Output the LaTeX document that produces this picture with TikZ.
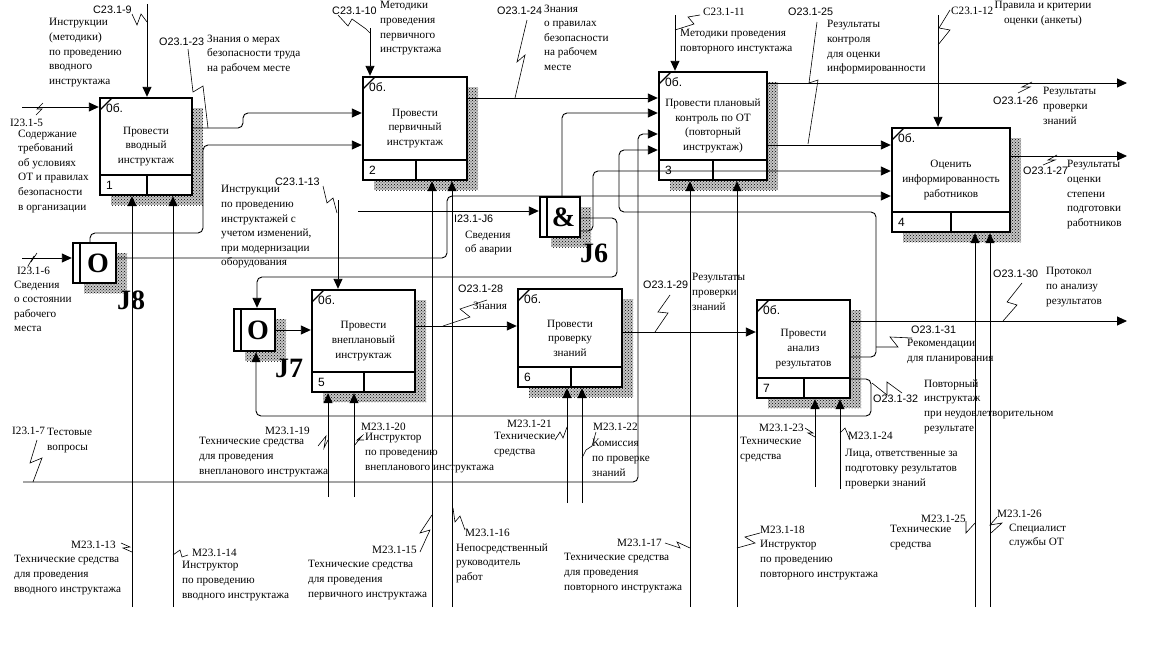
\documentclass[tikz,border=0pt]{standalone}
\usepackage{fontspec}
\setmainfont{Liberation Serif}
\setsansfont{Liberation Sans}
\usetikzlibrary{arrows.meta,patterns}
\newcommand\sfn{\sffamily\fontsize{10.8}{14.6}\selectfont}
\newcommand\rmn{\rmfamily\fontsize{11.2}{14.6}\selectfont}
\tikzset{
  con/.style={line width=0.9pt, rounded corners=5pt},
  arr/.style={con, -{Triangle[length=10pt,width=9pt]}},
  lab/.style={anchor=north west, align=left, font=\rmn, yshift=7.6pt, execute at begin node=\strut, inner sep=0pt},
  labs/.style={lab, font=\sfn},
  bolt/.style={line width=0.6pt},
  shadowbg/.style={fill=black!22},
  shadowpat/.style={pattern=crosshatch dots, pattern color=black},
  actst/.style={draw, line width=2.4pt, fill=white, rectangle, inner sep=0pt},
  jst/.style={draw, line width=2.4pt, fill=white, rectangle, inner sep=0pt},
  jsym/.style={font=\rmfamily\bfseries\fontsize{28}{28}\selectfont, inner sep=0pt},
  jlab/.style={anchor=west, font=\rmfamily\bfseries\fontsize{28}{28}\selectfont, inner sep=0pt},
}
% #1 name, #2 left, #3 top, #4 right, #5 bottom, #6 mid x, #7 number, #8 text
\newcommand\actbox[8]{%
  \fill[shadowbg] (#2+11,#3+10) rectangle (#4+11,#5+10);
  \fill[shadowpat] (#2+11,#3+10) rectangle (#4+11,#5+10);
  \node[actst, minimum width=#4-#2, minimum height=#5-#3] (#1) at ({(#2+#4)/2},{(#3+#5)/2}) {};
  \draw[line width=2.4pt] (#2,#5-20) -- (#4,#5-20) (#6,#5-20) -- (#6,#5);
  \draw[line width=1.2pt] (#2,#3+12) -- (#2+12,#3);
  \node[anchor=north west, font=\sffamily\fontsize{12}{12}\selectfont, inner sep=0pt] at (#2+6,#3+5) {0б.};
  \node[anchor=west, font=\sffamily\fontsize{12}{12}\selectfont, inner sep=0pt] at (#2+6,#5-10) {#7};
  \node[align=center, font=\rmn, inner sep=0pt] at ({(#2+#4)/2},{(#3+#5)/2}) {#8};
}
% #1 name, #2 left, #3 top, #4 right, #5 bottom, #6 symbol
\newcommand\jbox[6]{%
  \fill[shadowbg] (#2+11,#3+10) rectangle (#4+11,#5+10);
  \fill[shadowpat] (#2+11,#3+10) rectangle (#4+11,#5+10);
  \node[jst, minimum width=#4-#2, minimum height=#5-#3] (#1) at ({(#2+#4)/2},{(#3+#5)/2}) {};
  \draw[line width=2.4pt] (#2+7,#3) -- (#2+7,#5);
  \node[jsym] at ({(#2+7+#4)/2},{(#3+#5)/2}) {#6};
}
\begin{document}
\begin{tikzpicture}[x=1pt,y=-1pt]
\fill[white] (0,0) rectangle (1152,672);
\useasboundingbox (0,0) rectangle (1152,672);

% ---------- boxes ----------
\actbox{b1}{100}{98}{192}{195}{147}{1}{Провести\\вводный\\инструктаж}
\actbox{b2}{363}{77}{467}{180}{416}{2}{Провести\\первичный\\инструктаж}
\actbox{b3}{659}{72}{767}{180}{713}{3}{Провести плановый\\контроль по ОТ\\(повторный\\инструктаж)}
\actbox{b4}{892}{128}{1010}{232}{951}{4}{Оценить\\информированность\\работников}
\actbox{b5}{312}{290}{415}{392}{364}{5}{Провести\\внеплановый\\инструктаж}
\actbox{b6}{518}{289}{622}{387}{571}{6}{Провести\\проверку\\знаний}
\actbox{b7}{757}{300}{850}{398}{804}{7}{Провести\\анализ\\результатов}

\jbox{j8}{73}{243}{116}{283}{O}
\jbox{j7}{234}{309}{275}{351}{O}
\jbox{j6}{540}{197}{580}{237}{\&}
\node[jlab] (lj8) at (117,300) {J8};
\node[jlab] (lj7) at (275,368) {J7};
\node[jlab] (lj6) at (580,253) {J6};

% ---------- controls ----------
\draw[arr] (147,4) -- (b1.north -| 147,0);
\draw[arr] (370,28) -- (b2.north -| 370,0);
\draw[arr] (675,15) -- (b3.north -| 675,0);
\draw[arr] (938,15) -- (b4.north -| 938,0);
\draw[arr] (338,200) -- (b5.north -| 338,0);

% ---------- inputs ----------
\draw[arr] (22,107) -- (b1.west |- 0,107);
\draw[arr] (22,258) -- (j8.west |- 0,258);
\draw[arr] (23,482) -- (638,482) -- (638,134) -- (b3.west |- 0,134);
\draw[arr] (358,211) -- (j6.west |- 0,211);

% ---------- internal arrows ----------
\draw[arr] (b1.east |- 0,128) -- (243,128) -- (243,113) -- (b2.west |- 0,113);
\draw[arr] (j8.north -| 90,0) -- (90,233) -- (203,233) -- (203,145) -- (b2.west |- 0,145);
\draw[arr] (j8.east |- 0,258) -- (447,258) -- (447,196) -- (b4.west |- 0,196);
\draw[arr] (b2.east |- 0,98) -- (b3.west |- 0,98);
\draw[arr] (j6.north -| 562,0) -- (562,113) -- (b3.west |- 0,113);
\draw[arr] (b3.east |- 0,145) -- (b4.west |- 0,145);
\draw[arr] (j6.east |- 0,231) -- (593,231) -- (593,171) -- (b4.west |- 0,171);
\draw[arr] (b7.east |- 0,357) -- (876,357) -- (876,212) -- (619,212) -- (619,150) -- (b3.west |- 0,150);
\draw[arr] (j6.east |- 0,218) -- (617,218) -- (617,277) -- (257,277) -- (j7.north -| 257,0);
\draw[arr] (b7.east |- 0,379) -- (871,379) -- (871,416) -- (256,416) -- (j7.south -| 256,0);
\draw[arr] (j7.east |- 0,330) -- (b5.west |- 0,330);
\draw[arr] (b5.east |- 0,326) -- (b6.west |- 0,326);
\draw[arr] (b6.east |- 0,332) -- (b7.west |- 0,332);

% ---------- outputs ----------
\draw[arr] (b3.east |- 0,83) -- (1127,83);
\draw[arr] (b4.east |- 0,156) -- (1127,156);
\draw[arr] (b7.east |- 0,321) -- (1127,321);

% ---------- mechanisms ----------
\draw[arr] (132,607) -- (b1.south -| 132,0);
\draw[arr] (173,607) -- (b1.south -| 173,0);
\draw[arr] (432,607) -- (b2.south -| 432,0);
\draw[arr] (452,607) -- (b2.south -| 452,0);
\draw[arr] (690,607) -- (b3.south -| 690,0);
\draw[arr] (737,607) -- (b3.south -| 737,0);
\draw[arr] (975,607) -- (b4.south -| 975,0);
\draw[arr] (990,607) -- (b4.south -| 990,0);
\draw[arr] (328,497) -- (b5.south -| 328,0);
\draw[arr] (354,497) -- (b5.south -| 354,0);
\draw[arr] (567,503) -- (b6.south -| 567,0);
\draw[arr] (582,503) -- (b6.south -| 582,0);
\draw[arr] (815,487) -- (b7.south -| 815,0);
\draw[arr] (840,489) -- (b7.south -| 840,0);

% ---------- label leaders ----------
\draw[bolt] (132,14) -- (137,25) -- (141,14) -- (147,22);
\draw[bolt] (36,115) -- (42,109) -- (37,109) -- (43,103);
\draw[bolt] (188,49) -- (193,92) -- (203,86) -- (208,128);
\draw[bolt] (338,15) -- (348,26) -- (352,19) -- (366,29) -- (370,33);
\draw[bolt] (527,20) -- (517,62) -- (525,55) -- (515,98);
\draw[bolt] (700,15) -- (688,17) -- (694,24) -- (675,30);
\draw[bolt] (817,22) -- (809,83) -- (818,80) -- (808,144);
\draw[bolt] (950,10) -- (939,28) -- (950,30) -- (938,45);
\draw[bolt] (1018,93) -- (1030,87) -- (1022,87) -- (1032,82);
\draw[bolt] (1043,165) -- (1055,160) -- (1048,160) -- (1057,155);
\draw[bolt] (323,186) -- (327,203) -- (333,198) -- (337,213);
\draw[bolt] (28,266) -- (34,256) -- (31,262) -- (37,253);
\draw[bolt] (443,326) -- (470,317) -- (460,309) -- (487,300);
\draw[bolt] (655,332) -- (668,313) -- (658,312) -- (670,295);
\draw[bolt] (1003,321) -- (1017,305) -- (1007,302) -- (1022,283);
\draw[bolt] (876,347) -- (898,347) -- (890,337) -- (912,338);
\draw[bolt] (872,383) -- (887,395) -- (887,382) -- (902,393);
\draw[bolt] (121,543) -- (130,547) -- (123,548) -- (132,552);
\draw[bolt] (173,555) -- (180,550) -- (182,557) -- (188,555);
\draw[bolt] (432,515) -- (420,533) -- (430,530) -- (420,552);
\draw[bolt] (453,508) -- (455,522) -- (460,516) -- (465,530);
\draw[bolt] (318,446) -- (326,436) -- (324,448) -- (328,440);
\draw[bolt] (354,446) -- (362,436) -- (357,440) -- (364,440);
\draw[bolt] (555,440) -- (560,432) -- (563,438) -- (567,427);
\draw[bolt] (582,458) -- (586,450) -- (592,446) -- (596,432);
\draw[bolt] (805,428) -- (813,433) -- (808,433) -- (815,437);
\draw[bolt] (840,433) -- (845,428) -- (850,440);
\draw[bolt] (665,543) -- (680,548) -- (677,542) -- (690,548);
\draw[bolt] (760,533) -- (745,537) -- (755,543) -- (737,548);
\draw[bolt] (966,521) -- (966,533) -- (975,523);
\draw[bolt] (997,517) -- (990,525) -- (1002,523) -- (991,533);
\draw[bolt] (37,440) -- (30,463) -- (42,458) -- (33,482);

% ---------- labels ----------
\node[labs] (tc9) at (93,11) {C23.1-9};
\node[lab] (xc9) at (49,26) {Инструкции\\(методики)\\по проведению\\вводного\\инструктажа};
\node[labs] (to23) at (159,43) {O23.1-23};
\node[lab] (xo23) at (207,42) {Знания о мерах\\безопасности труда\\на рабочем месте};
\node[lab] (ti5) at (10,124) {I23.1-5};
\node[lab] (xi5) at (18,137) {Содержание\\требований\\об условиях\\ОТ и правилах\\безопасности\\в организации};
\node[labs] (tc10) at (332,12) {C23.1-10};
\node[lab] (xc10) at (380,9) {Методики\\проведения\\первичного\\инструктажа};
\node[labs] (to24) at (497,12) {O23.1-24};
\node[lab] (xo24) at (544,12) {Знания\\о правилах\\безопасности\\на рабочем\\месте};
\node[labs] (tc13) at (275,183) {C23.1-13};
\node[lab] (xc13) at (221,193) {Инструкции\\по проведению\\инструктажей с\\учетом изменений,\\при модернизации\\оборудования};
\node[labs] (tij6) at (454,220) {I23.1-J6};
\node[lab] (xij6) at (465,238) {Сведения\\об аварии};
\node[lab] (tc11) at (703,13) {C23.1-11};
\node[lab] (xc11) at (680,37) {Методики проведения\\повторного инстуктажа};
\node[labs] (to25) at (788,13) {O23.1-25};
\node[lab] (xo25) at (827,28) {Результаты\\контроля\\для оценки\\информированности};
\node[lab] (tc12) at (951,12) {C23.1-12};
\node[lab, anchor=north, align=center] (xc12) at (1043,9) {Правила и критерии\\оценки (анкеты)};
\node[labs] (to26) at (993,102) {O23.1-26};
\node[lab] (xo26) at (1043,95) {Результаты\\проверки\\знаний};
\node[labs] (to27) at (1023,172) {O23.1-27};
\node[lab] (xo27) at (1067,168) {Результаты\\оценки\\степени\\подготовки\\работников};
\node[lab] (ti6) at (17,272) {I23.1-6};
\node[lab] (xi6) at (14,288) {Сведения\\о состоянии\\рабочего\\места};
\node[labs] (to28) at (458,290) {O23.1-28};
\node[lab] (xo28) at (473,307) {Знания};
\node[labs] (to29) at (643,286) {O23.1-29};
\node[lab] (xo29) at (692,281) {Результаты\\проверки\\знаний};
\node[labs] (to30) at (993,275) {O23.1-30};
\node[lab] (xo30) at (1046,275) {Протокол\\по анализу\\результатов};
\node[labs] (to31) at (911,331) {O23.1-31};
\node[lab] (xo31) at (907,347) {Рекомендации\\для планирования};
\node[labs] (to32) at (873,400) {O23.1-32};
\node[lab] (xo32) at (924,387) {Повторный\\инструктаж\\при неудовлетворительном\\результате};
\node[lab] (ti7) at (12,432) {I23.1-7};
\node[lab] (xi7) at (47,436) {Тестовые\\вопросы};
\node[lab] (tm19) at (265,432) {M23.1-19};
\node[lab] (xm19) at (199,445) {Технические средства\\для проведения\\внепланового инструктажа};
\node[lab] (tm20) at (361,428) {M23.1-20};
\node[lab] (xm20) at (365,441) {Инструктор\\по проведению\\внепланового инструктажа};
\node[lab] (tm21) at (507,425) {M23.1-21};
\node[lab] (xm21) at (494,440) {Технические\\средства};
\node[lab] (tm22) at (593,428) {M23.1-22};
\node[lab] (xm22) at (592,447) {Комиссия\\по проверке\\знаний};
\node[lab] (tm23) at (759,429) {M23.1-23};
\node[lab] (xm23) at (740,445) {Технические\\средства};
\node[lab] (tm24) at (848,437) {M23.1-24};
\node[lab] (xm24) at (845,457) {Лица, ответственные за\\подготовку результатов\\проверки знаний};
\node[lab] (tm13) at (71,546) {M23.1-13};
\node[lab] (xm13) at (14,563) {Технические средства\\для проведения\\вводного инструктажа};
\node[lab] (tm14) at (192,554) {M23.1-14};
\node[lab] (xm14) at (182,569) {Инструктор\\по проведению\\вводного инструктажа};
\node[lab] (tm15) at (372,551) {M23.1-15};
\node[lab] (xm15) at (308,568) {Технические средства\\для проведения\\первичного инструктажа};
\node[lab] (tm16) at (465,534) {M23.1-16};
\node[lab] (xm16) at (456,551) {Непосредственный\\руководитель\\работ};
\node[lab] (tm17) at (617,544) {M23.1-17};
\node[lab] (xm17) at (564,561) {Технические средства\\для проведения\\повторного инструктажа};
\node[lab] (tm18) at (760,531) {M23.1-18};
\node[lab] (xm18) at (760,548) {Инструктор\\по проведению\\повторного инструктажа};
\node[lab] (tm25) at (921,520) {M23.1-25};
\node[lab] (xm25) at (890,533) {Технические\\средства};
\node[lab] (tm26) at (997,515) {M23.1-26};
\node[lab] (xm26) at (1009,531) {Специалист\\службы ОТ};
\end{tikzpicture}
\end{document}
